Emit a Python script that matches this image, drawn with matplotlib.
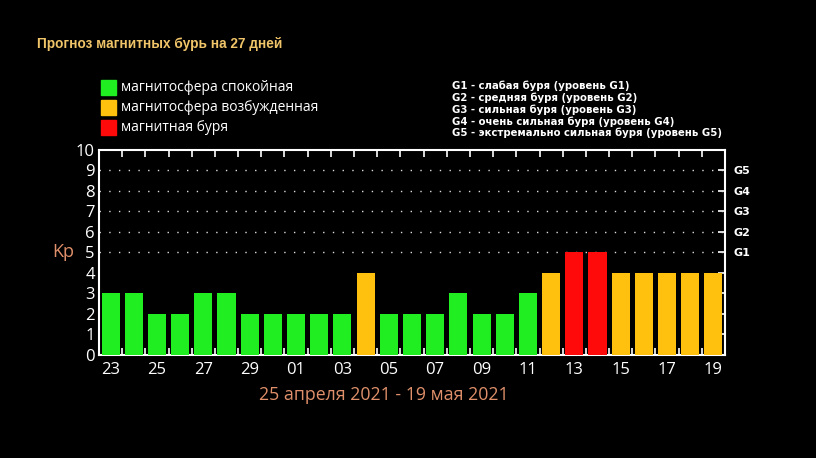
import matplotlib
matplotlib.use('Agg')
import matplotlib.pyplot as plt
import numpy as np

# Kp forecast, 23 April - 19 May 2021
days = ['23', '24', '25', '26', '27', '28', '29', '30', '01', '02', '03', '04', '05',
        '06', '07', '08', '09', '10', '11', '12', '13', '14', '15', '16', '17', '18', '19']
kp = [3, 3, 2, 2, 3, 3, 2, 2, 2, 2, 2, 4, 2, 2, 2, 3, 2, 2, 3, 4, 5, 5, 4, 4, 4, 4, 4]

legend_labels = ['магнитосфера спокойная', 'магнитосфера возбужденная', 'магнитная буря']
legend_colors = ['#20ee20', '#ffc10e', '#ff0a0a']
g_levels = ['G1', 'G2', 'G3', 'G4', 'G5']
g_notes = ['G1 - слабая буря (уровень G1)',
           'G2 - средняя буря (уровень G2)',
           'G3 - сильная буря (уровень G3)',
           'G4 - очень сильная буря (уровень G4)',
           'G5 - экстремально сильная буря (уровень G5)']

plt.rcParams['font.family'] = ['Open Sans', 'DejaVu Sans']

fig = plt.figure(figsize=(8.16, 4.58), dpi=100, facecolor='black')
ax = fig.add_axes([0.1213, 0.2249, 0.7672, 0.4476], facecolor='black')

x = np.arange(len(kp))
colors = [legend_colors[0] if v <= 3 else legend_colors[1] if v == 4 else legend_colors[2] for v in kp]
ax.bar(x, kp, width=0.78, color=colors, zorder=3)

# dotted grid lines above the bars
for lvl in range(5, 10):
    ax.axhline(lvl, color='#dddddd', lw=1.0, linestyle=(0, (1, 6)), zorder=1)

ax.set_xlim(-0.5, len(kp) - 0.5)
ax.set_ylim(0, 10)

for s in ax.spines.values():
    s.set_color('white')
    s.set_linewidth(1.5)

ax.set_xticks(x[::2])
ax.set_xticklabels(days[::2])
ax.set_xticks(x[:-1] + 0.5, minor=True)
ax.tick_params(axis='x', which='major', length=0, colors='white', labelsize=12, pad=5)
ax.tick_params(axis='x', which='minor', direction='in', length=5, width=1.2,
               color='white', top=True, bottom=True)

ax.set_yticks(range(0, 11))
ax.tick_params(axis='y', which='major', length=0, labelcolor='white', labelsize=12, pad=3)

sec = ax.secondary_yaxis('right')
sec.set_yticks(range(1, 10))
sec.set_yticklabels([''] * 4 + g_levels)
sec.tick_params(direction='in', length=5, width=1.2, color='white', labelcolor='white',
                labelsize=8, pad=6)
for t in sec.get_yticklabels():
    t.set_family('DejaVu Sans')
    t.set_fontweight('bold')
sec.spines['right'].set_visible(False)

ax.text(-0.04, 0.5, 'Kp', transform=ax.transAxes, color='#e0906a', fontsize=13,
        ha='right', va='center')

fig.text(0.470, 0.138, '25 апреля 2021 - 19 мая 2021', color='#e0906a', fontsize=12.8,
         ha='center', va='center')

fig.text(0.045, 0.905, 'Прогноз магнитных бурь на 27 дней', color='#f0c468',
         fontsize=9.8, fontweight='bold', ha='left', va='center', family='Liberation Sans')

# legend boxes
for i, (lab, c) in enumerate(zip(legend_labels, legend_colors)):
    yc = 1 - (87.5 + i * 20) / 458
    fig.patches.append(plt.Rectangle((101 / 816, yc - 7.5 / 458), 15 / 816, 15 / 458,
                                     transform=fig.transFigure, color=c))
    fig.text(121 / 816, yc, lab, color='white', fontsize=10, ha='left', va='center')

for i, note in enumerate(g_notes):
    fig.text(452 / 816, 1 - (86 + i * 11.8) / 458, note, color='white', fontsize=7.3,
             fontweight='bold', ha='left', va='center', family='DejaVu Sans')

fig.savefig('out.png', dpi=100, facecolor='black')
